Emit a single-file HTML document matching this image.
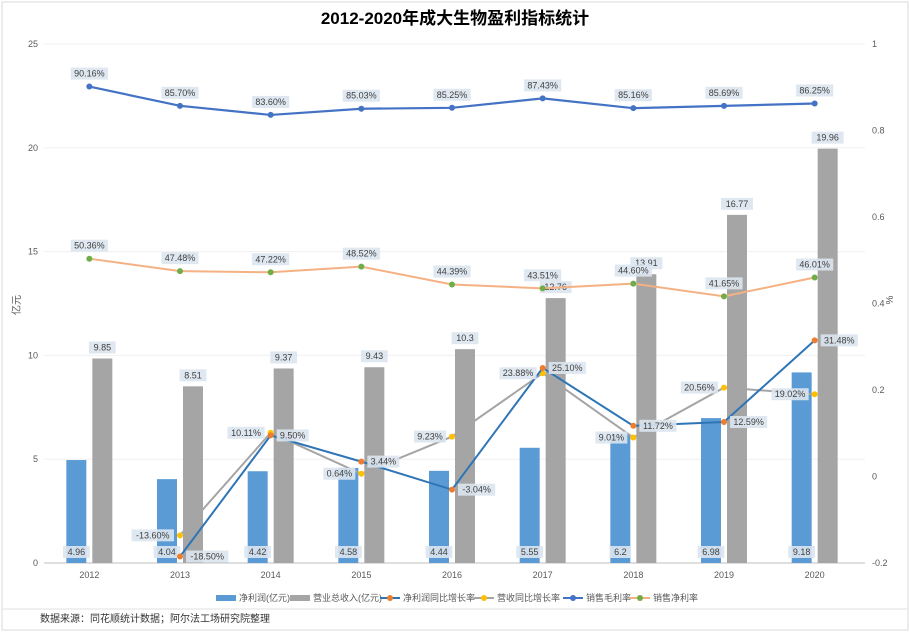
<!DOCTYPE html>
<html><head><meta charset="utf-8"><style>
body{margin:0;background:#fff;width:910px;height:632px;overflow:hidden;font-family:"Liberation Sans","Noto Sans CJK SC",sans-serif;}
svg text{font-family:"Liberation Sans","Noto Sans CJK SC",sans-serif;}
</style></head><body>
<svg id="c" width="910" height="632">
<rect x="2" y="2" width="906" height="628" fill="#fff" stroke="#d9d9d9"/>
<text x="455" y="24" text-anchor="middle" font-size="17" font-weight="bold" fill="#000">2012-2020年成大生物盈利指标统计</text>
<text x="20" y="305" font-size="10" fill="#595959" transform="rotate(-90 20 305)" text-anchor="middle">亿元</text>
<text x="893" y="300" font-size="10" fill="#595959" transform="rotate(-90 893 300)" text-anchor="middle">%</text>
<line x1="3" y1="609" x2="907" y2="609" stroke="#e0e0e0"/>
<text x="40" y="622" font-size="10" fill="#333">数据来源：同花顺统计数据；阿尔法工场研究院整理</text>
<g id="g"></g>
</svg>
<script>
const years=['2012','2013','2014','2015','2016','2017','2018','2019','2020'];
const netProfit=[4.96,4.04,4.42,4.58,4.44,5.55,6.2,6.98,9.18];
const revenue=[9.85,8.51,9.37,9.43,10.3,12.76,13.91,16.77,19.96];
const revenueLabels=['9.85','8.51','9.37','9.43','10.3','12.76','13.91','16.77','19.96'];
const netProfitLabels=['4.96','4.04','4.42','4.58','4.44','5.55','6.2','6.98','9.18'];
const profitGrowth=[null,-0.185,0.095,0.0344,-0.0304,0.251,0.1172,0.1259,0.3148];
const revenueGrowth=[null,-0.136,0.1011,0.0064,0.0923,0.2388,0.0901,0.2056,0.1902];
const grossMargin=[0.9016,0.857,0.836,0.8503,0.8525,0.8743,0.8516,0.8569,0.8625];
const netMargin=[0.5036,0.4748,0.4722,0.4852,0.4439,0.4351,0.446,0.4165,0.4601];
const leftTicks=[0,5,10,15,20,25];
const rightTicks=[-0.2,0,0.2,0.4,0.6,0.8,1];

const NS='http://www.w3.org/2000/svg';
const g=document.getElementById('g');
const X0=44,X1=860,YT=44,YB=563;
const step=(X1-X0)/years.length;
const xc=i=>X0+step*(i+0.5);
const yl=v=>YB-(v/25)*(YB-YT);
const yr=v=>YB-((v+0.2)/1.2)*(YB-YT);
function el(tag,attrs,parent){const e=document.createElementNS(NS,tag);for(const k in attrs)e.setAttribute(k,attrs[k]);(parent||g).appendChild(e);return e;}
function txt(x,y,s,attrs){const t=el('text',Object.assign({x:x,y:y,'font-size':9,fill:'#595959'},attrs||{}));t.textContent=s;return t;}
function pct(v){return (v*100).toFixed(2)+'%';}
function label(x,y,s,anchor){
  const w=s.length*5.2+6;let lx=anchor==='end'?x-w:anchor==='middle'?x-w/2:x;
  const r=el('rect',{x:lx,y:y-9,width:w,height:12,fill:'#dce6f0',opacity:0.9});
  
  const t=txt(lx+w/2,y,s,{'text-anchor':'middle',fill:'#404040'});
  
}
leftTicks.forEach(v=>{
  const l=el('line',{x1:X0,x2:X1+5,y1:yl(v),y2:yl(v),stroke:v===0?'#bfbfbf':'#f0f0f0'});
  
  const t=txt(38,yl(v)+3,String(v),{'text-anchor':'end'});
  
});
rightTicks.forEach(v=>{
  const t=txt(872,yr(v)+3,String(Math.round(v*10)/10),{});
  
});
years.forEach((y,i)=>{
  const t=txt(xc(i),578,y,{'text-anchor':'middle'});
  
});
const bw=20;
years.forEach((y,i)=>{
  const b1=el('rect',{x:xc(i)-23,y:yl(netProfit[i]),width:bw,height:YB-yl(netProfit[i]),fill:'#5b9bd5'});
  
  const b2=el('rect',{x:xc(i)+3,y:yl(revenue[i]),width:bw,height:YB-yl(revenue[i]),fill:'#a5a5a5'});
  
});
years.forEach((y,i)=>{
  label(xc(i)+13,yl(revenue[i])-8,revenueLabels[i],'middle');
  label(xc(i)-13,555,netProfitLabels[i],'middle');
});
function series(vals,lineColor,markColor,name,w){
  let d='';vals.forEach((v,i)=>{if(v===null)return;d+=(d?'L':'M')+xc(i)+','+yr(v);});
  const p=el('path',{d:d,fill:'none',stroke:lineColor,'stroke-width':w||2});
  
  vals.forEach((v,i)=>{if(v===null)return;
    const c=el('circle',{cx:xc(i),cy:yr(v),r:3,fill:markColor});
    });
}
series(grossMargin,'#4472c4','#4472c4','gross-margin',2.2);
series(netMargin,'#f4b183','#70ad47','net-margin',2);
series(revenueGrowth,'#a5a5a5','#ffc000','revenue-growth',2);
series(profitGrowth,'#2e75b6','#ed7d31','profit-growth',2);
grossMargin.forEach((v,i)=>label(xc(i),yr(v)-10,pct(v),'middle'));
netMargin.forEach((v,i)=>label(xc(i),yr(v)-10,pct(v),'middle'));
revenueGrowth.forEach((v,i)=>{if(v!==null)label(xc(i)-6,yr(v)+3,pct(v),'end');});
profitGrowth.forEach((v,i)=>{if(v!==null)label(xc(i)+6,yr(v)+3,pct(v),'start');});
const leg=[['净利润(亿元)','bar','#5b9bd5'],['营业总收入(亿元)','bar','#a5a5a5'],['净利润同比增长率','line','#2e75b6','#ed7d31'],['营收同比增长率','line','#a5a5a5','#ffc000'],['销售毛利率','line','#4472c4','#4472c4'],['销售净利率','line','#f4b183','#70ad47']];
const lx=[216,290,380,474,563,630];
leg.forEach((L,i)=>{
  const x=lx[i],y=598;
  const grp=el('g',{});
  if(L[1]==='bar'){el('rect',{x:x,y:y-3,width:20,height:6,fill:L[2]},grp);}
  else{el('line',{x1:x,x2:x+20,y1:y,y2:y,stroke:L[2],'stroke-width':2},grp);el('circle',{cx:x+10,cy:y,r:3,fill:L[3]},grp);}
  const t=txt(x+23,y+3,L[0],{fill:'#595959'});grp.appendChild(t);
});
</script>
</body></html>
